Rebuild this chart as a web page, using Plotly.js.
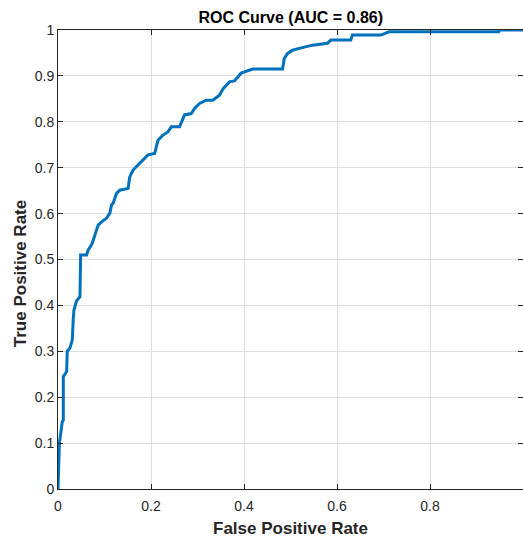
<!DOCTYPE html>
<html>
<head>
<meta charset="utf-8">
<script src="https://cdn.plot.ly/plotly-3.0.1.min.js"></script>
<style>html,body{margin:0;padding:0;background:#fff;}#chart{width:523px;height:543px;}</style>
</head>
<body>
<div id="chart"></div>
<script>
const fpr = [0,0.0015,0.003,0.0064,0.0092,0.0114,0.0114,0.0186,0.0199,0.0257,0.0307,0.0328,0.0343,0.040,0.0472,0.0487,0.0615,0.065,0.0722,0.0757,0.0808,0.0864,0.0937,0.1044,0.1115,0.1151,0.1185,0.1258,0.1329,0.1507,0.1543,0.1614,0.1721,0.1829,0.1936,0.2079,0.215,0.2257,0.2364,0.2437,0.2615,0.2722,0.2866,0.2937,0.3044,0.3188,0.3329,0.3473,0.3543,0.3687,0.3794,0.3938,0.4116,0.4187,0.483,0.4866,0.4937,0.5044,0.5188,0.5473,0.5794,0.5867,0.6296,0.633,0.6945,0.7117,0.9475,0.95,1];
const tpr = [0,0.05,0.10,0.125,0.147,0.15,0.245,0.256,0.30,0.307,0.325,0.37,0.39,0.41,0.419,0.51,0.51,0.521,0.532,0.542,0.557,0.575,0.582,0.59,0.601,0.619,0.622,0.644,0.651,0.655,0.68,0.695,0.706,0.717,0.728,0.731,0.76,0.771,0.778,0.789,0.789,0.815,0.818,0.829,0.84,0.847,0.847,0.858,0.871,0.887,0.889,0.906,0.913,0.915,0.915,0.938,0.949,0.956,0.96,0.967,0.971,0.978,0.978,0.989,0.989,0.996,0.996,1,1];
const xTickVals = [0,0.2,0.4,0.6,0.8,1];
const xTickText = ['0','0.2','0.4','0.6','0.8','1'];
const yTickVals = [0,0.1,0.2,0.3,0.4,0.5,0.6,0.7,0.8,0.9,1];
const yTickText = ['0','0.1','0.2','0.3','0.4','0.5','0.6','0.7','0.8','0.9','1'];

const FONT = 'Liberation Sans, Arial, sans-serif';
const trace = {
  x: fpr, y: tpr, mode: 'lines', type: 'scatter',
  line: {color: '#0072BD', width: 3},
  hoverinfo: 'skip'
};
const axCommon = {
  showline: true, linecolor: '#262626', linewidth: 1, mirror: 'ticks',
  ticks: 'inside', ticklen: 5, tickcolor: '#262626', tickwidth: 1,
  showgrid: true, gridcolor: '#dedede', gridwidth: 1,
  zeroline: false, tickfont: {family: FONT, size: 14, color: '#262626'}
};
const layout = {
  width: 523, height: 543,
  margin: {l: 58, r: 0, t: 30, b: 54},
  paper_bgcolor: '#fff', plot_bgcolor: '#fff',
  showlegend: false,
  title: {text: '<b>ROC Curve (AUC = 0.86)</b>', x: 0.556, xanchor: 'center', y: 0.968, yanchor: 'middle',
          font: {family: FONT, size: 16, color: '#000'}},
  xaxis: Object.assign({}, axCommon, {
    range: [0, 1], tickvals: xTickVals, ticktext: xTickText, ticklabelstandoff: 4,
    title: {text: '<b>False Positive Rate</b>', standoff: 9, font: {family: FONT, size: 17, color: '#262626'}}
  }),
  yaxis: Object.assign({}, axCommon, {
    range: [0, 1], tickvals: yTickVals, ticktext: yTickText
  }),
  annotations: [{
    text: '<b>True Positive Rate</b>', xref: 'paper', yref: 'paper',
    x: 0, xshift: -38, y: 0.468, textangle: -90, showarrow: false,
    xanchor: 'center', yanchor: 'middle',
    font: {family: FONT, size: 17, color: '#262626'}
  }]
};
Plotly.newPlot('chart', [trace], layout, {displayModeBar: false, staticPlot: true});
</script>
</body>
</html>
